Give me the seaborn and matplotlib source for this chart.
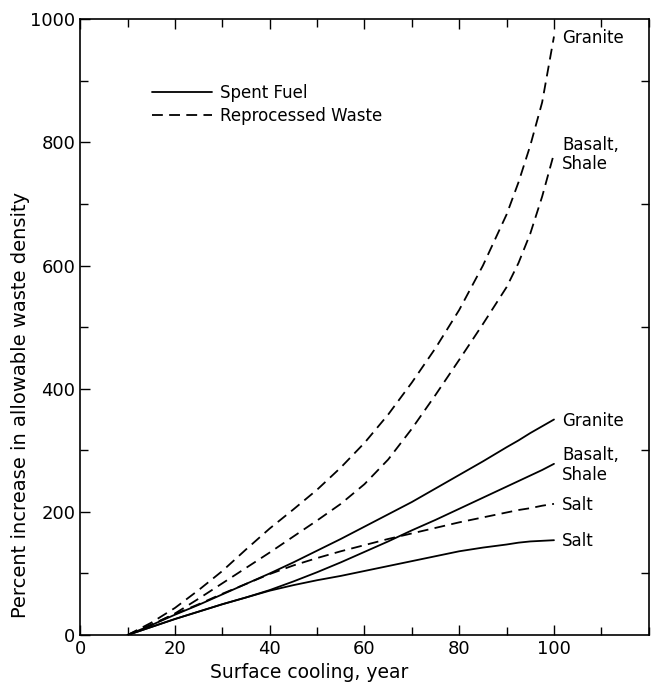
import numpy as np
import pandas as pd
import seaborn as sns
import matplotlib.pyplot as plt
from matplotlib.lines import Line2D
from matplotlib.ticker import MultipleLocator

# values (surface cooling in years, % increase)
years = [10, 15, 20, 25, 30, 35, 40, 45, 50, 55, 60, 65, 70, 75, 80, 85, 90,
         92.5, 95, 97.5, 100]

spent_granite = [0, 16, 33, 49, 66, 83, 100, 118, 137, 156, 176, 196, 216,
                 238, 260, 282, 305, 316, 328, 339, 350]
spent_basalt = [0, 13, 26, 38, 50, 61, 73, 87, 102, 118, 135, 152, 170, 187,
                205, 223, 241, 250, 259, 268, 278]
spent_salt = [0, 13, 26, 38, 50, 61, 72, 81, 89, 96, 104, 112, 120, 128, 136,
              142, 147, 150, 152, 153, 154]

repro_granite = [0, 20, 44, 73, 104, 139, 173, 204, 236, 272, 312, 358, 410,
                 466, 528, 600, 683, 735, 795, 865, 972]
repro_basalt = [0, 16, 35, 59, 84, 109, 134, 160, 186, 213, 245, 285, 335,
                390, 447, 505, 565, 604, 652, 712, 782]
repro_salt = [0, 17, 34, 50, 67, 83, 99, 113, 125, 136, 146, 156, 165, 174,
              183, 191, 199, 203, 206, 210, 213]

waste_types = ['Spent Fuel', 'Reprocessed Waste']

series = {
    ('Spent Fuel', 'Granite'): spent_granite,
    ('Spent Fuel', 'Basalt,\nShale'): spent_basalt,
    ('Spent Fuel', 'Salt'): spent_salt,
    ('Reprocessed Waste', 'Granite'): repro_granite,
    ('Reprocessed Waste', 'Basalt,\nShale'): repro_basalt,
    ('Reprocessed Waste', 'Salt'): repro_salt,
}

rows = []
for (waste, rock), vals in series.items():
    for x, v in zip(years, vals):
        rows.append({'Year': x, 'Increase': v, 'Waste': waste, 'Rock': rock})
df = pd.DataFrame(rows)

sns.set_style('ticks')
plt.rcParams['font.family'] = ['DejaVu Sans']
plt.rcParams['text.color'] = 'black'
plt.rcParams['xtick.color'] = 'black'
plt.rcParams['ytick.color'] = 'black'
plt.rcParams['axes.labelcolor'] = 'black'

fig = plt.figure(figsize=(6.52, 6.88), dpi=100)
ax = fig.add_axes([0.123, 0.077, 0.872, 0.895])

dash_map = {'Spent Fuel': '', 'Reprocessed Waste': (6, 3.5)}
sns.lineplot(data=df, x='Year', y='Increase', style='Waste', units='Rock',
             estimator=None, dashes=dash_map, color='black', linewidth=1.3,
             legend=False, ax=ax)

# labels at the right end of each curve
for (waste, rock), vals in series.items():
    ax.text(101.7, vals[-1] - 2, rock, fontsize=12, va='center', ha='left',
            linespacing=1.1)

ax.set_xlim(0, 120)
ax.set_ylim(0, 1000)
ax.set_xticks([0, 20, 40, 60, 80, 100])
ax.xaxis.set_minor_locator(MultipleLocator(10))
ax.set_yticks([0, 200, 400, 600, 800, 1000])
ax.yaxis.set_minor_locator(MultipleLocator(100))
ax.tick_params(which='both', direction='in', top=True, right=True,
               labelsize=13, width=1)
ax.tick_params(which='major', length=7)
ax.tick_params(which='minor', length=6)
ax.tick_params(axis='y', which='major', right=False)
for s in ax.spines.values():
    s.set_linewidth(1.2)
    s.set_color('black')

ax.set_xlabel('Surface cooling, year', fontsize=13.5)
ax.set_ylabel('Percent increase in allowable waste density', fontsize=14)
ax.xaxis.set_label_coords(0.402, -0.045)
ax.yaxis.set_label_coords(-0.088, 0.373)

handles = [Line2D([], [], color='black', lw=1.3, linestyle='-'),
           Line2D([], [], color='black', lw=1.3, dashes=(6, 3.5))]
ax.legend(handles, waste_types, loc='upper left', bbox_to_anchor=(0.1, 0.92),
          frameon=False, fontsize=12, handlelength=3.6, handletextpad=0.5,
          labelspacing=0.3)

fig.savefig('out.png', dpi=100)
